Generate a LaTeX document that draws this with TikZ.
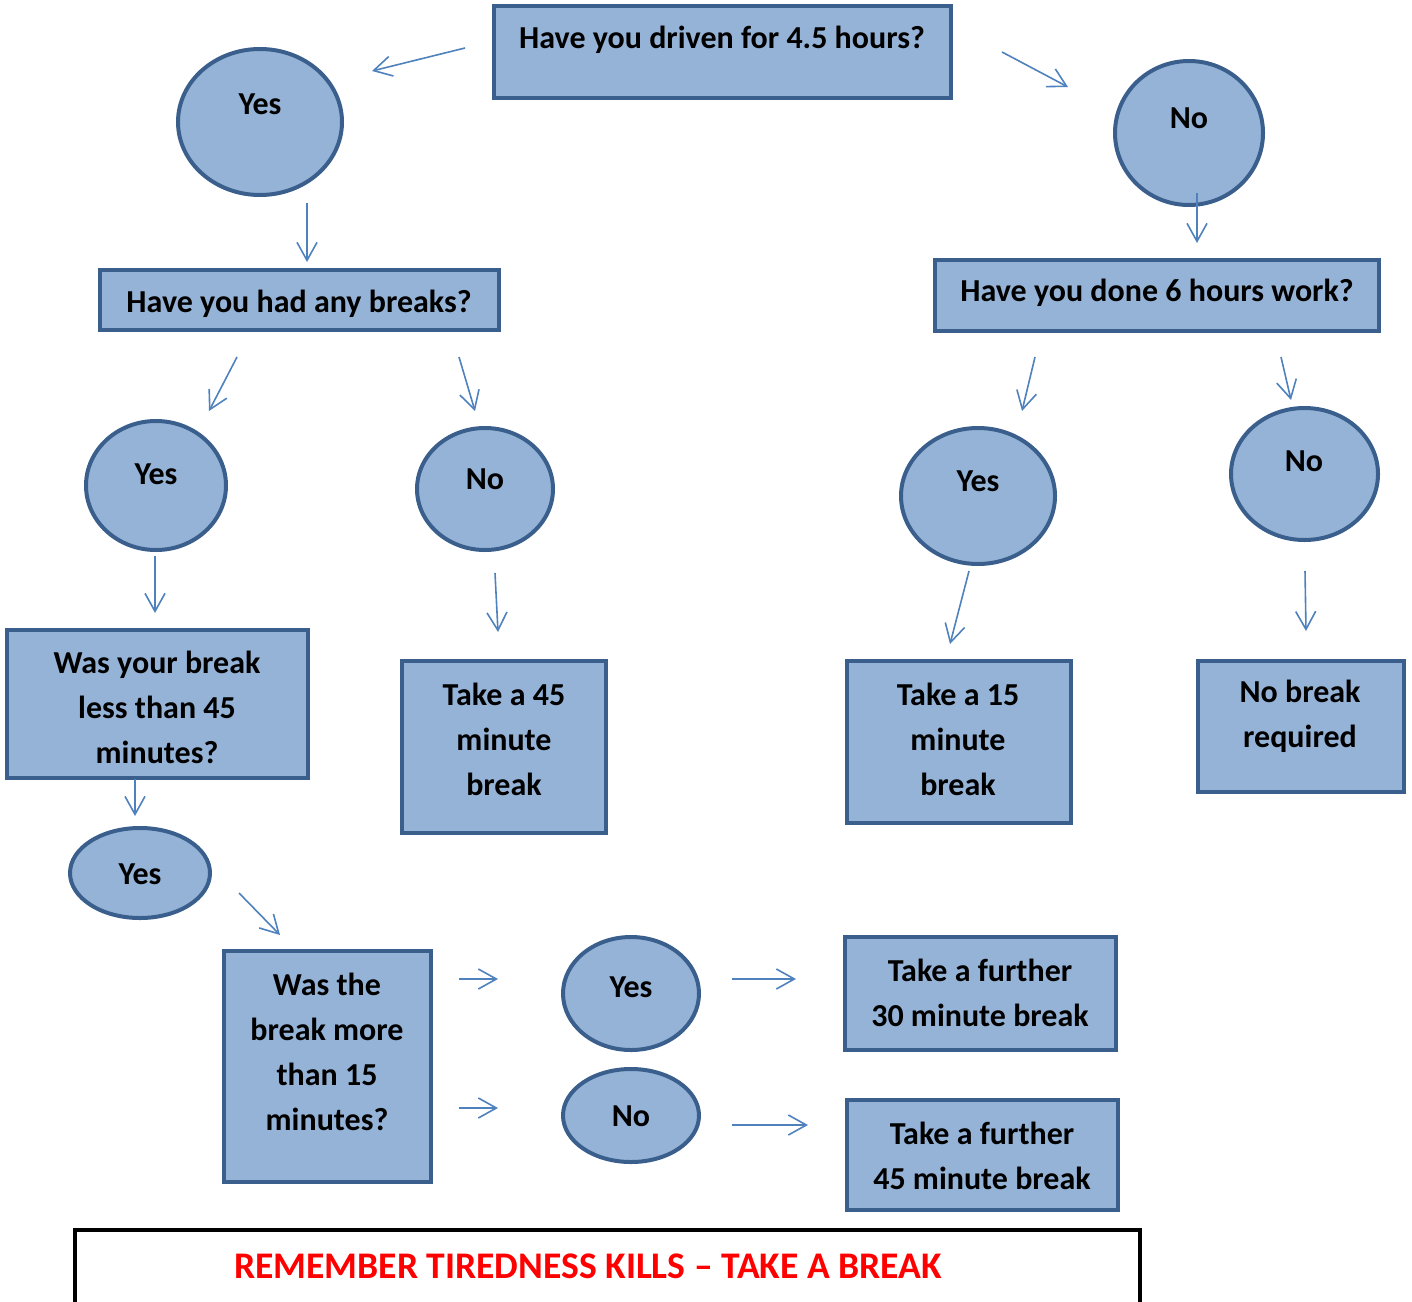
\documentclass[tikz,border=0pt]{standalone}
\usepackage{fontspec}
\setmainfont{Carlito}
\usetikzlibrary{shapes.geometric,arrows.meta}
\definecolor{fillblue}{HTML}{95B3D7}
\definecolor{edgeblue}{HTML}{3A5F8C}
\definecolor{arrowblue}{HTML}{4F81BD}
\definecolor{warnred}{HTML}{FF0000}
\tikzset{
  box/.style={draw=edgeblue, fill=fillblue, line width=2pt, rectangle, inner sep=0pt},
  oval/.style={draw=edgeblue, fill=fillblue, line width=2pt, ellipse, inner sep=0pt},
  txt/.style={font=\bfseries\fontsize{16}{22.5}\selectfont, align=center, inner sep=0pt, text=black},
  conn/.style={draw=arrowblue, line width=0.8pt, -{Straight Barb[length=9pt,width=10pt,line width=0.8pt]}},
}
\begin{document}
\begin{tikzpicture}[x=0.5pt,y=-0.5pt]
\useasboundingbox (0,0) rectangle (1412,1301);
% shapes
\node[box, minimum width=228.5pt, minimum height=46pt] (q1) at (722.5,52) {};
\node[txt] (q1t) at (722,40) {Have you driven for 4.5 hours?};
\node[oval, minimum width=82pt, minimum height=73pt] (y1) at (260,122) {};
\node[txt] (y1t) at (260,104) {Yes};
\node[oval, minimum width=74pt, minimum height=72pt] (n1) at (1189,133) {};
\node[txt] (n1t) at (1189,118) {No};
\node[box, minimum width=199.5pt, minimum height=30pt] (q2) at (299.5,300) {};
\node[txt] (q2t) at (299,304) {Have you had any breaks?};
\node[box, minimum width=222pt, minimum height=35.5pt] (q3) at (1157,295.5) {};
\node[txt] (q3t) at (1157,293) {Have you done 6 hours work?};
\node[oval, minimum width=70pt, minimum height=64.5pt] (y2) at (156,485.5) {};
\node[txt] (y2t) at (156,474) {Yes};
\node[oval, minimum width=68pt, minimum height=61pt] (n2) at (485,489) {};
\node[txt] (n2t) at (485,479) {No};
\node[oval, minimum width=77pt, minimum height=68pt] (y3) at (978,496) {};
\node[txt] (y3t) at (978,481) {Yes};
\node[oval, minimum width=73.5pt, minimum height=66pt] (n3) at (1304.5,474) {};
\node[txt] (n3t) at (1304,461) {No};
\node[box, minimum width=150.5pt, minimum height=74pt] (q4) at (157.5,704) {};
\node[txt] (q4t) at (157,707.5) {Was your break\\less than 45\\minutes?};
\node[box, minimum width=102pt, minimum height=86pt] (a1) at (504,747) {};
\node[txt] (a1t) at (504,739) {Take a 45\\minute\\break};
\node[box, minimum width=112pt, minimum height=81pt] (a2) at (959,742) {};
\node[txt] (a2t) at (958,739) {Take a 15\\minute\\break};
\node[box, minimum width=103pt, minimum height=65.5pt] (a3) at (1301,726.5) {};
\node[txt] (a3t) at (1300,716.5) {No break\\required};
\node[oval, minimum width=70pt, minimum height=45pt] (y4) at (140,873) {};
\node[txt] (y4t) at (140,874) {Yes};
\node[box, minimum width=103.5pt, minimum height=115.5pt] (q5) at (327.5,1066.5) {};
\node[txt] (q5t) at (327,1051.5) {Was the\\break more\\than 15\\minutes?};
\node[oval, minimum width=68pt, minimum height=56.5pt] (y5) at (631,993.5) {};
\node[txt] (y5t) at (631,987) {Yes};
\node[oval, minimum width=68pt, minimum height=46.5pt] (n5) at (631,1115.5) {};
\node[txt] (n5t) at (631,1116) {No};
\node[box, minimum width=135.5pt, minimum height=56.5pt] (a4) at (980.5,993.5) {};
\node[txt] (a4t) at (980,992.5) {Take a further\\30 minute break};
\node[box, minimum width=135.5pt, minimum height=55pt] (a5) at (982.5,1155) {};
\node[txt] (a5t) at (982,1155.5) {Take a further\\45 minute break};
\node[draw=black, line width=1.6pt, rectangle, minimum width=532.5pt, minimum height=38pt, inner sep=0pt] (rem) at (607.5,1268) {};
\node[font=\bfseries\fontsize{18.8}{20}\selectfont, text=warnred, inner sep=0pt] (remt) at (588,1266) {REMEMBER TIREDNESS KILLS – TAKE A BREAK};
% arrow end points
\coordinate (c1a) at (465,48);   \coordinate (c1b) at (372,71);
\coordinate (c2a) at (1002,52);  \coordinate (c2b) at (1068,87);
\coordinate (c3a) at (307,203);  \coordinate (c3b) at (307,262);
\coordinate (c4a) at (1197,193); \coordinate (c4b) at (1197,243);
\coordinate (c5a) at (237,357);  \coordinate (c5b) at (209,411);
\coordinate (c6a) at (459,357);  \coordinate (c6b) at (475,411);
\coordinate (c7a) at (1035,357); \coordinate (c7b) at (1022,411);
\coordinate (c8a) at (1281,357); \coordinate (c8b) at (1291,400);
\coordinate (c9a) at (155,556);  \coordinate (c9b) at (155,613);
\coordinate (c10a) at (495,573); \coordinate (c10b) at (498,632);
\coordinate (c11a) at (969,571); \coordinate (c11b) at (950,644);
\coordinate (c12a) at (1305,571);\coordinate (c12b) at (1306,631);
\coordinate (c13a) at (135,779); \coordinate (c13b) at (135,816);
\coordinate (c14a) at (239,893); \coordinate (c14b) at (280,935);
\coordinate (c15a) at (459,979); \coordinate (c15b) at (498,979);
\coordinate (c16a) at (459,1108);\coordinate (c16b) at (498,1108);
\coordinate (c17a) at (732,979); \coordinate (c17b) at (796,979);
\coordinate (c18a) at (732,1125);\coordinate (c18b) at (808,1125);
\foreach \i in {1,...,18} { \draw[conn] (c\i a) -- (c\i b); }
\end{tikzpicture}
\end{document}
